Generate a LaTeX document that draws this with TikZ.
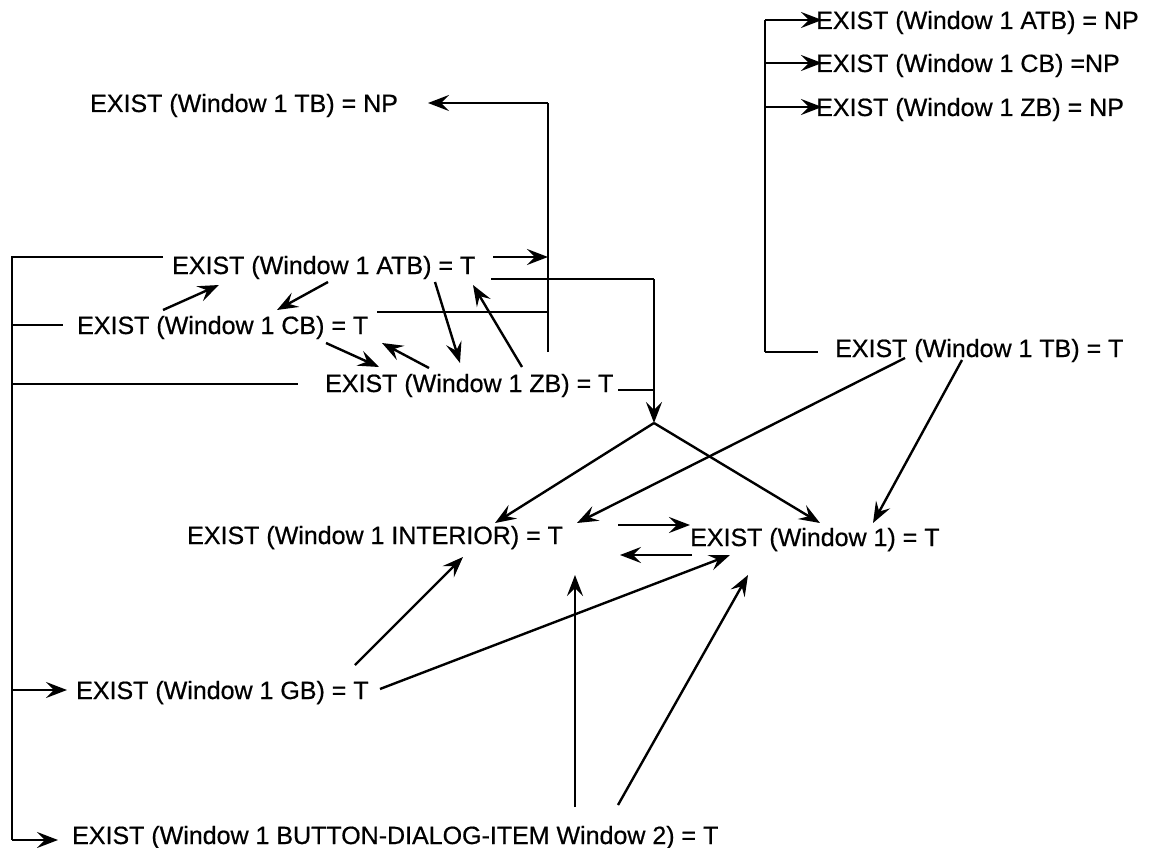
\documentclass[tikz,border=0pt]{standalone}
\usepackage{fontspec}
\setmainfont{Liberation Sans}
\newfontfamily\lblfont{Liberation Sans}[BoldFont={Liberation Sans}, BoldFeatures={FakeBold=0.6}]
\usetikzlibrary{arrows.meta}
\tikzset{
  lbl/.style={anchor=base west, inner sep=0pt, font=\lblfont\fontsize{25}{30}\selectfont\bfseries},
  ln/.style={line width=2.4pt, line join=miter},
  arr/.style={ln, -{Stealth[length=21pt,width=16pt,inset=8pt]}}
}
\begin{document}
\begin{tikzpicture}[x=1pt,y=-1pt]
\useasboundingbox (0,0) rectangle (1152,848);
% nodes
\node[lbl] (atbnp) at (816,29) {EXIST (Window 1 ATB) = NP};
\node[lbl] (cbnp)  at (816,72) {EXIST (Window 1 CB) =NP};
\node[lbl] (zbnp)  at (816,116) {EXIST (Window 1 ZB) = NP};
\node[lbl] (tbnp)  at (90,112) {EXIST (Window 1 TB) = NP};
\node[lbl] (atbt)  at (172,274) {EXIST (Window 1 ATB) = T};
\node[lbl] (cbt)   at (77,334) {EXIST (Window 1 CB) = T};
\node[lbl] (zbt)   at (325,392) {EXIST (Window 1 ZB) = T};
\node[lbl] (tbt)   at (835,357) {EXIST (Window 1 TB) = T};
\node[lbl] (int)   at (187,544) {EXIST (Window 1 INTERIOR) = T};
\node[lbl] (wone)  at (690,546) {EXIST (Window 1) = T};
\node[lbl] (gb)    at (76,699) {EXIST (Window 1 GB) = T};
\node[lbl] (bdi)   at (72,844) {EXIST (Window 1 BUTTON-DIALOG-ITEM Window 2) = T};
% junction coordinates
\coordinate (lt) at (12,257);
\coordinate (lcb) at (12,325);
\coordinate (lzb) at (12,384);
\coordinate (lgb) at (12,690);
\coordinate (lb) at (12,840);
\coordinate (mt) at (548,103);
\coordinate (mb) at (548,352);
\coordinate (rt) at (654,279);
\coordinate (rzb) at (654,390);
\coordinate (apex) at (654,423);
\coordinate (tt) at (765,20);
\coordinate (tcb) at (765,63);
\coordinate (tzb) at (765,107);
\coordinate (tb) at (765,352);
% left bus
\draw[ln] (163,257) -- (lt) -- (lb);
\draw[ln] (lcb) -- (63,325);
\draw[ln] (lzb) -- (298,384);
\draw[arr] (lgb) -- (67,690);
\draw[arr] (lb) -- (58,840);
% middle bus
\draw[ln] (mb) -- (mt);
\draw[arr] (mt) -- (428,103);
\draw[arr] (493,257) -- (548,257);
\draw[ln] (377,312) -- (548,312);
% right bus
\draw[ln] (491,279) -- (rt);
\draw[arr] (rt) -- (apex);
\draw[ln] (618,390) -- (rzb);
\draw[arr] (apex) -- (495,523);
\draw[arr] (apex) -- (820,523);
% top right bus
\draw[ln] (tb) -- (tt);
\draw[ln] (tb) -- (818,352);
\draw[arr] (tt) -- (822,20);
\draw[arr] (tcb) -- (822,63);
\draw[arr] (tzb) -- (822,107);
% TB = T arrows
\draw[arr] (905,358) -- (577,523);
\draw[arr] (962,360) -- (873,523);
% INT <-> W1
\draw[arr] (618,525) -- (690,525);
\draw[arr] (692,555) -- (620,555);
% GB
\draw[arr] (355,665) -- (463,557);
\draw[arr] (380,689) -- (730,555);
% BDI
\draw[arr] (575,807) -- (575,575);
\draw[arr] (618,805) -- (748,575);
% ATB / CB / ZB
\draw[arr] (163,310) -- (219,285);
\draw[arr] (328,282) -- (277,310);
\draw[arr] (326,343) -- (379,367);
\draw[arr] (429,368) -- (382,343);
\draw[arr] (435,282) -- (460,363);
\draw[arr] (522,367) -- (473,285);
\end{tikzpicture}
\end{document}
